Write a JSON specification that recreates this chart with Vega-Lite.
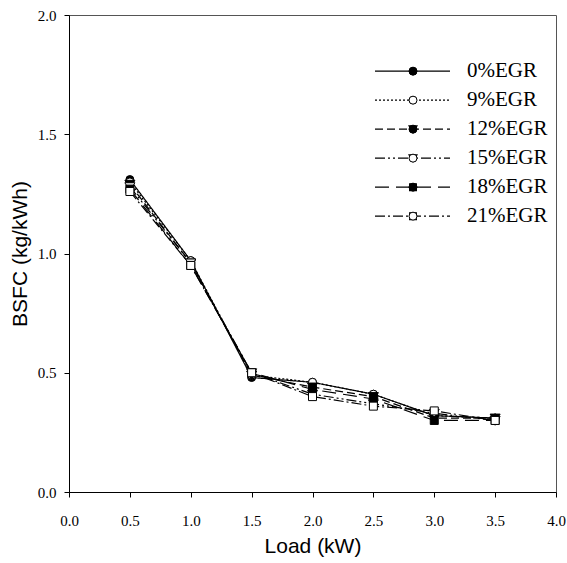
{
  "$schema": "https://vega.github.io/schema/vega-lite/v6.json",
  "width": 487,
  "height": 477,
  "autosize": "none",
  "padding": {"left": 69, "top": 15, "right": 11, "bottom": 71},
  "background": "white",
  "config": {
    "view": {"stroke": "#555", "strokeWidth": 1},
    "axis": {
      "grid": false,
      "domainColor": "black",
      "tickColor": "black",
      "tickSize": 5,
      "labelFont": "Liberation Serif",
      "labelFontSize": 15,
      "labelColor": "black",
      "labelFlush": false,
      "labelOverlap": false,
      "titleFont": "Liberation Sans",
      "titleFontSize": 21,
      "titleFontWeight": "normal",
      "titleColor": "black"
    }
  },
  "data": {
    "values": [
      {"load": 0.5, "series": "0%EGR", "bsfc": 1.31},
      {"load": 1.0, "series": "0%EGR", "bsfc": 0.97},
      {"load": 1.5, "series": "0%EGR", "bsfc": 0.48},
      {"load": 2.0, "series": "0%EGR", "bsfc": 0.46},
      {"load": 2.5, "series": "0%EGR", "bsfc": 0.41},
      {"load": 3.0, "series": "0%EGR", "bsfc": 0.32},
      {"load": 3.5, "series": "0%EGR", "bsfc": 0.31},
      {"load": 0.5, "series": "9%EGR", "bsfc": 1.30},
      {"load": 1.0, "series": "9%EGR", "bsfc": 0.97},
      {"load": 1.5, "series": "9%EGR", "bsfc": 0.49},
      {"load": 2.0, "series": "9%EGR", "bsfc": 0.46},
      {"load": 2.5, "series": "9%EGR", "bsfc": 0.41},
      {"load": 3.0, "series": "9%EGR", "bsfc": 0.32},
      {"load": 3.5, "series": "9%EGR", "bsfc": 0.31},
      {"load": 0.5, "series": "12%EGR", "bsfc": 1.29},
      {"load": 1.0, "series": "12%EGR", "bsfc": 0.96},
      {"load": 1.5, "series": "12%EGR", "bsfc": 0.49},
      {"load": 2.0, "series": "12%EGR", "bsfc": 0.44},
      {"load": 2.5, "series": "12%EGR", "bsfc": 0.40},
      {"load": 3.0, "series": "12%EGR", "bsfc": 0.31},
      {"load": 3.5, "series": "12%EGR", "bsfc": 0.31},
      {"load": 0.5, "series": "15%EGR", "bsfc": 1.28},
      {"load": 1.0, "series": "15%EGR", "bsfc": 0.96},
      {"load": 1.5, "series": "15%EGR", "bsfc": 0.50},
      {"load": 2.0, "series": "15%EGR", "bsfc": 0.41},
      {"load": 2.5, "series": "15%EGR", "bsfc": 0.37},
      {"load": 3.0, "series": "15%EGR", "bsfc": 0.33},
      {"load": 3.5, "series": "15%EGR", "bsfc": 0.30},
      {"load": 0.5, "series": "18%EGR", "bsfc": 1.27},
      {"load": 1.0, "series": "18%EGR", "bsfc": 0.95},
      {"load": 1.5, "series": "18%EGR", "bsfc": 0.50},
      {"load": 2.0, "series": "18%EGR", "bsfc": 0.43},
      {"load": 2.5, "series": "18%EGR", "bsfc": 0.39},
      {"load": 3.0, "series": "18%EGR", "bsfc": 0.30},
      {"load": 3.5, "series": "18%EGR", "bsfc": 0.30},
      {"load": 0.5, "series": "21%EGR", "bsfc": 1.26},
      {"load": 1.0, "series": "21%EGR", "bsfc": 0.95},
      {"load": 1.5, "series": "21%EGR", "bsfc": 0.50},
      {"load": 2.0, "series": "21%EGR", "bsfc": 0.40},
      {"load": 2.5, "series": "21%EGR", "bsfc": 0.36},
      {"load": 3.0, "series": "21%EGR", "bsfc": 0.34},
      {"load": 3.5, "series": "21%EGR", "bsfc": 0.30}
    ]
  },
  "encoding": {
    "x": {
      "field": "load",
      "type": "quantitative",
      "scale": {"domain": [0, 4], "nice": false, "zero": false},
      "axis": {
        "title": "Load (kW)",
        "values": [0, 0.5, 1, 1.5, 2, 2.5, 3, 3.5, 4],
        "format": ".1f",
        "labelPadding": 16,
        "titlePadding": 7
      }
    },
    "y": {
      "field": "bsfc",
      "type": "quantitative",
      "scale": {"domain": [0, 2], "nice": false},
      "axis": {
        "title": "BSFC (kg/kWh)",
        "values": [0, 0.5, 1, 1.5, 2],
        "format": ".1f",
        "labelPadding": 8,
        "titlePadding": 7
      }
    }
  },
  "layer": [
    {
      "mark": {"type": "line", "color": "black", "strokeWidth": 1.2},
      "encoding": {
        "strokeDash": {
          "field": "series",
          "type": "nominal",
          "scale": {
            "domain": ["0%EGR", "9%EGR", "12%EGR", "15%EGR", "18%EGR", "21%EGR"],
            "range": [[1, 0], [2, 2], [8, 4], [10, 3, 2, 3, 2, 3], [14, 7], [10, 3, 2, 3]]
          },
          "legend": {
            "orient": "none",
            "legendX": 305,
            "legendY": 42,
            "title": null,
            "symbolType": "stroke",
            "symbolSize": 5625,
            "symbolStrokeColor": "black",
            "symbolStrokeWidth": 1.2,
            "labelFont": "Liberation Serif",
            "labelFontSize": 21,
            "labelColor": "black",
            "labelOffset": 16,
            "clipHeight": 28.3,
            "rowPadding": 0,
            "padding": 0
          }
        }
      }
    },
    {
      "mark": {"type": "point", "filled": true, "stroke": "black", "strokeWidth": 1, "size": 64, "opacity": 1},
      "encoding": {
        "shape": {
          "field": "series",
          "type": "nominal",
          "sort": ["0%EGR", "9%EGR", "12%EGR", "15%EGR", "18%EGR", "21%EGR"],
          "scale": {"range": ["circle", "circle", "M-1.25,-1L1.25,-1L0,1.2Z", "M-1.25,-1L1.25,-1L0,1.2Z", "square", "square"]},
          "legend": {
            "orient": "none",
            "legendX": 333.5,
            "legendY": 42,
            "title": null,
            "symbolSize": 64,
            "symbolStrokeColor": "black",
            "symbolStrokeWidth": 1,
            "symbolOpacity": 1,
            "labelFontSize": 21,
            "labelExpr": "''",
            "clipHeight": 28.3,
            "rowPadding": 0,
            "padding": 0
          }
        },
        "fill": {
          "field": "series",
          "type": "nominal",
          "sort": ["0%EGR", "9%EGR", "12%EGR", "15%EGR", "18%EGR", "21%EGR"],
          "scale": {"range": ["black", "white", "black", "white", "black", "white"]},
          "legend": {
            "orient": "none",
            "legendX": 333.5,
            "legendY": 42,
            "title": null,
            "symbolSize": 64,
            "symbolStrokeColor": "black",
            "symbolStrokeWidth": 1,
            "symbolOpacity": 1,
            "labelFontSize": 21,
            "labelExpr": "''",
            "clipHeight": 28.3,
            "rowPadding": 0,
            "padding": 0
          }
        }
      }
    }
  ]
}
